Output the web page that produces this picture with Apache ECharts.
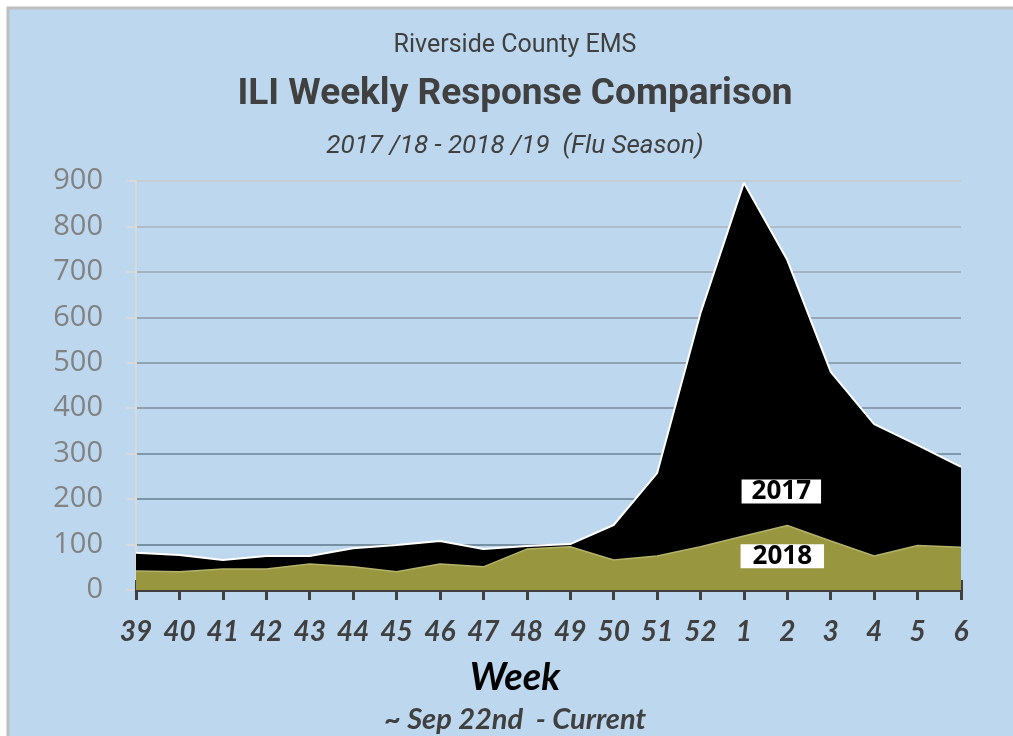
<!DOCTYPE html>
<html>
<head>
<meta charset="utf-8">
<title>ILI Weekly Response Comparison</title>
<script src="https://cdn.jsdelivr.net/npm/echarts@6/dist/echarts.min.js"></script>
<style>
  html, body { margin: 0; padding: 0; background: #fff; }
  #chart { width: 1013px; height: 736px; }
</style>
</head>
<body>
<div id="chart"></div>
<script>
// weeks of the flu season, Sep 22nd onwards
var weeks = ["39", "40", "41", "42", "43", "44", "45", "46", "47", "48",
  "49", "50", "51", "52", "1", "2", "3", "4", "5", "6"];
var season2017 = [82, 77, 66, 75, 75, 92, 99, 108, 90, 97,
  101, 143, 257, 609, 896, 726, 480, 365, 319, 271];
var season2018 = [42, 40, 46, 46, 57, 51, 40, 57, 51, 90,
  95, 66, 75, 95, 119, 142, 108, 75, 98, 94];
var yTicks = { min: 0, max: 900, interval: 100 };

// grid lines get lighter towards the top
var gridColors = ["#6f879b", "#7890a4", "#7c94a8", "#8299ac", "#8aa0b0",
  "#90a2b4", "#98a8b8", "#a4b2c0", "#b0bcc8", "#c4ccd4"];

var chart = echarts.init(document.getElementById("chart"));
var titleFont = "Roboto, 'Liberation Sans', sans-serif";
var midX = 510;

var option = {
  backgroundColor: "#ffffff",
  graphic: [
    {
      type: "rect",
      z: -10,
      shape: { x: 8, y: 8, width: 1100, height: 800 },
      style: { fill: "#bdd7ee", stroke: "#bfbfbf", lineWidth: 3 },
      silent: true
    }
  ],
  title: [
    {
      text: "Riverside County EMS",
      left: midX,
      textAlign: "center",
      top: 28,
      textStyle: { fontFamily: titleFont, fontSize: 25, fontWeight: "normal", color: "#404040" }
    },
    {
      text: "ILI Weekly Response Comparison",
      left: midX,
      textAlign: "center",
      top: 71,
      textStyle: { fontFamily: titleFont, fontSize: 37, fontWeight: "bold", color: "#404040" }
    },
    {
      text: "2017 /18 - 2018 /19  (Flu Season)",
      left: midX,
      textAlign: "center",
      top: 128,
      textStyle: { fontFamily: titleFont, fontSize: 26, fontStyle: "italic", fontWeight: "normal", color: "#404040" }
    },
    {
      text: "Week",
      left: midX,
      textAlign: "center",
      top: 654,
      textStyle: { fontFamily: "Lato, sans-serif", fontSize: 38, fontStyle: "italic", fontWeight: "bold", color: "#000" }
    },
    {
      text: "~ Sep 22nd  - Current",
      left: midX,
      textAlign: "center",
      top: 700,
      textStyle: { fontFamily: "Lato, sans-serif", fontSize: 29, fontStyle: "italic", fontWeight: "bold", color: "#404040" }
    }
  ],
  grid: { left: 136, right: 52, top: 181, bottom: 146 },
  xAxis: [
    {
      type: "category",
      data: weeks,
      boundaryGap: false,
      axisLine: { lineStyle: { color: "#404040", width: 3 } },
      axisTick: { show: true, length: 10, lineStyle: { color: "#404040", width: 3 } },
      axisLabel: {
        margin: 28,
        fontFamily: "Lato, sans-serif",
        fontSize: 28,
        fontStyle: "italic",
        fontWeight: "bold",
        color: "#404040"
      },
      splitLine: { show: false }
    },
    {
      // second copy so the ticks cross the axis line
      type: "category",
      data: weeks,
      boundaryGap: false,
      position: "bottom",
      axisLine: { show: false },
      axisTick: { show: true, inside: true, length: 10, lineStyle: { color: "#404040", width: 3 } },
      axisLabel: { show: false },
      splitLine: { show: false }
    }
  ],
  yAxis: {
    type: "value",
    min: yTicks.min,
    max: yTicks.max,
    interval: yTicks.interval,
    axisLine: { show: true, lineStyle: { color: "#d9d9d9", width: 2 } },
    axisTick: { show: true, length: 10, lineStyle: { color: "#d9d9d9", width: 2 } },
    axisLabel: {
      margin: 33,
      fontFamily: "'Open Sans', sans-serif",
      fontSize: 29,
      color: "#828282"
    },
    splitLine: { lineStyle: { color: gridColors, width: 2 } }
  },
  series: [
    {
      name: "2017",
      type: "line",
      data: season2017,
      symbol: "none",
      lineStyle: { color: "#ffffff", width: 2 },
      areaStyle: { color: "#000000", opacity: 1 },
      z: 2,
      markPoint: {
        symbol: "rect",
        symbolSize: 0,
        data: [{ coord: ["2", 217] }],
        label: {
          show: true,
          formatter: "2017",
          offset: [-6, 0],
          backgroundColor: "#ffffff",
          padding: [0, 10, 0, 10],
          lineHeight: 24,
          fontFamily: "'Open Sans', sans-serif",
          fontSize: 26,
          fontWeight: "bold",
          color: "#000"
        }
      }
    },
    {
      name: "2018",
      type: "line",
      data: season2018,
      symbol: "none",
      lineStyle: { color: "#b3b26a", width: 1.5 },
      areaStyle: { color: "#999640", opacity: 1 },
      z: 3,
      markPoint: {
        symbol: "rect",
        symbolSize: 0,
        data: [{ coord: ["2", 74] }],
        label: {
          show: true,
          formatter: "2018",
          offset: [-5, 0],
          backgroundColor: "#ffffff",
          padding: [0, 12, 0, 12],
          lineHeight: 24,
          fontFamily: "'Open Sans', sans-serif",
          fontSize: 26,
          fontWeight: "bold",
          color: "#000"
        }
      }
    }
  ]
};

chart.setOption(option);
</script>
</body>
</html>
